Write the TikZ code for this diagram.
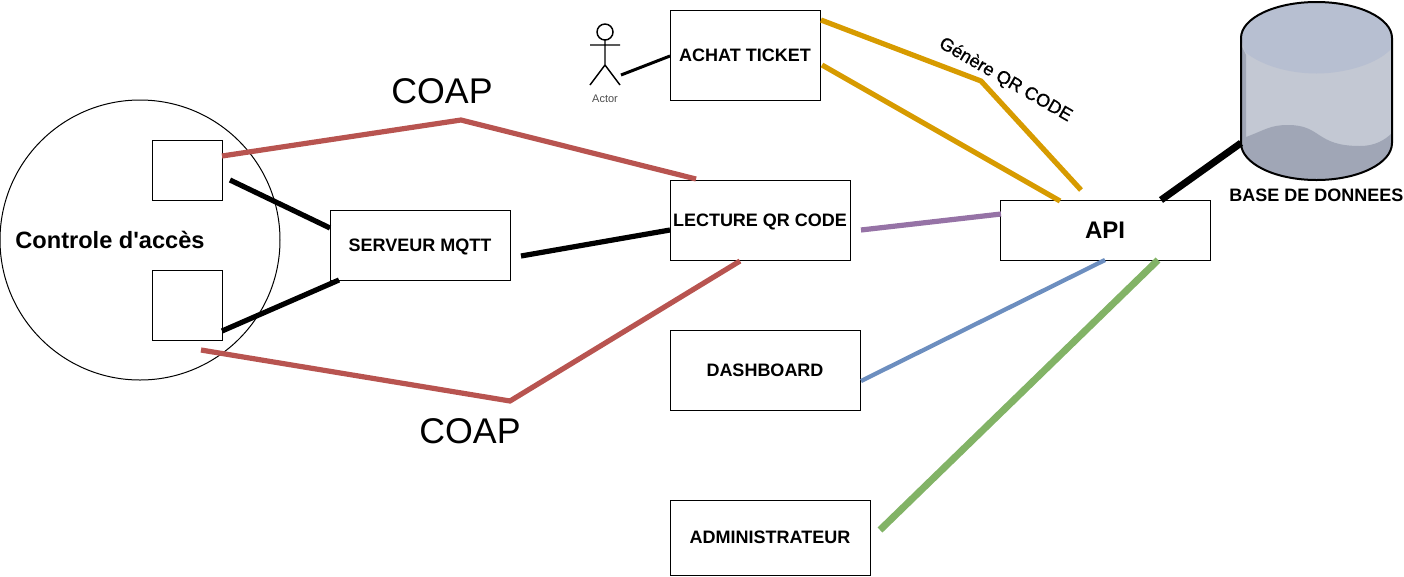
\documentclass[tikz,border=0pt]{standalone}
\usepackage{fontspec}
\setmainfont{Liberation Sans}[Ligatures=TeXOff]
\newfontfamily\semibold{Liberation Sans}[Ligatures=TeXOff,FakeBold=0.8]
\definecolor{redc}{HTML}{B85450}
\definecolor{goldc}{HTML}{D79B00}
\definecolor{purc}{HTML}{9673A6}
\definecolor{bluc}{HTML}{6C8EBF}
\definecolor{grnc}{HTML}{82B366}
\definecolor{cyltop}{HTML}{B7BFD1}
\definecolor{cylmid}{HTML}{C3C8D3}
\definecolor{cyldark}{HTML}{A0A6B6}
\tikzset{
  box/.style={draw=black,fill=white,line width=0.75pt,inner sep=0pt,text depth=0pt,font=\bfseries\fontsize{13.5pt}{15pt}\selectfont,align=center},
  wire/.style={line width=3.9pt,line cap=butt,line join=miter},
  thinwire/.style={line width=2.25pt},
  coap/.style={font=\fontsize{26.8pt}{30pt}\selectfont,inner sep=0pt},
  lbl/.style={font=\bfseries\fontsize{13.5pt}{15pt}\selectfont,inner sep=0pt},
}
\begin{document}
\begin{tikzpicture}[x=0.75pt,y=-0.75pt]
\useasboundingbox (0,0) rectangle (1404,576);
% circle
\node[draw=black,line width=0.75pt,circle,minimum size=210pt,inner sep=0pt] (ctrl) at (140,240) {};
\node[lbl,font=\bfseries\fontsize{17.7pt}{20pt}\selectfont] (ctrllbl) at (110,240) {Controle d'accès};
% boxes
\node[box,minimum width=52.5pt,minimum height=45pt] (s1) at (187,170) {};
\node[box,minimum width=52.5pt,minimum height=52.5pt] (s2) at (187,305) {};
\node[box,minimum width=135pt,minimum height=52.5pt] (mqtt) at (420,245) {SERVEUR MQTT};
\node[box,minimum width=135pt,minimum height=60pt] (qr) at (760,220.500) {LECTURE QR CODE};
\node[box,minimum width=112.5pt,minimum height=67.5pt] (ticket) at (745,55) {ACHAT TICKET};
\node[box,minimum width=157.5pt,minimum height=45pt,font=\bfseries\fontsize{18pt}{20pt}\selectfont] (api) at (1105,230) {API};
\node[box,minimum width=142.5pt,minimum height=60pt] (dash) at (765,370) {DASHBOARD};
\node[box,minimum width=150pt,minimum height=56.25pt] (admin) at (770,537.500) {ADMINISTRATEUR};
% database
\fill[cylmid] (1241,38) -- (1241,143) arc[start angle=180,end angle=0,x radius=75.5,y radius=37] -- (1392,38) -- cycle;
\fill[cyldark] (1246,137) .. controls (1265,130) and (1270,125) .. (1288,125) .. controls (1322,125) and (1315,146) .. (1360,146) .. controls (1375,146) and (1385,140) .. (1392,133) -- (1392,143) arc[start angle=0,end angle=180,x radius=75.5,y radius=37] -- cycle;
\fill[cyldark] (1241,45) -- (1246,55) -- (1246,138) -- (1241,143) -- cycle;
\fill[cyltop] (1241,38) arc[start angle=180,end angle=360,x radius=75.5,y radius=36];
\fill[cyltop] (1241,38) -- (1245,52) .. controls (1262,66) and (1290,73.500) .. (1316.500,73.500) .. controls (1345,73.500) and (1378,64) .. (1392,48) -- (1392,38) -- cycle;
\draw[black,line width=1.5pt] (1241,143) -- (1241,38) arc[start angle=180,end angle=360,x radius=75.5,y radius=36] -- (1392,143) arc[start angle=0,end angle=180,x radius=75.5,y radius=37];
\coordinate (db) at (1241,143);
\node[lbl] (dblbl) at (1316.500,195.500) {BASE DE DONNEES};
% actor
\draw[line width=1.1pt] (605,32) circle[radius=8];
\draw[line width=1.1pt] (605,40) -- (605,65) (590,45) -- (620,45) (590,85) -- (605,65) -- (620,85);
\coordinate (act) at (621,75);
\node[font=\fontsize{8.25pt}{10pt}\selectfont,text=black!70,inner sep=0pt] (actlbl) at (605,99) {Actor};
% connectors
\coordinate (c1) at (461,120);
\coordinate (c2) at (510,401);
\coordinate (g1) at (981,81);
\coordinate (s1a) at (222,156);
\coordinate (s1b) at (230,180);
\coordinate (s2a) at (222,331);
\coordinate (s2b) at (201,350);
\coordinate (mqL1) at (330,228);
\coordinate (mqL2) at (339,280);
\coordinate (mqR) at (521,256);
\coordinate (qrT) at (696,179);
\coordinate (qrL) at (670,230);
\coordinate (qrB) at (740,261);
\coordinate (qrR) at (861,230);
\coordinate (apiL) at (1001,214);
\coordinate (tR1) at (821,20);
\coordinate (tR2) at (822,65);
\coordinate (apiT1) at (1081,190);
\coordinate (apiT2) at (1060,201);
\coordinate (apiTR) at (1161,200);
\coordinate (apiB1) at (1105,260);
\coordinate (apiB2) at (1158,260);
\coordinate (dashR) at (861,381);
\coordinate (adminR) at (880,530);
\coordinate (tL) at (670,56);
\draw[wire,redc] (s1a) -- (c1) -- (qrT);
\draw[wire,redc] (s2b) -- (c2) -- (qrB);
\draw[wire,black] (s1b) -- (mqL1);
\draw[wire,black] (s2a) -- (mqL2);
\draw[wire,black] (mqR) -- (qrL);
\draw[wire,purc] (qrR) -- (apiL);
\draw[wire,goldc] (tR1) -- (g1) -- (apiT1);
\draw[wire,goldc] (tR2) -- (apiT2);
\draw[wire,black,line width=5.25pt] (apiTR) -- (db);
\draw[wire,bluc,line width=3.2pt] (dashR) -- (apiB1);
\draw[wire,grnc,line width=5.25pt] (adminR) -- (apiB2);
\draw[thinwire,black] (act) -- (tL);
% labels
\node[coap] (coap1) at (442,91) {COAP};
\node[coap] (coap2) at (470,431) {COAP};
\node[font=\semibold\fontsize{13.6pt}{16pt}\selectfont,inner sep=0pt,rotate=-30] (gen) at (1005.500,80) {Génère QR CODE};
\end{tikzpicture}
\end{document}
